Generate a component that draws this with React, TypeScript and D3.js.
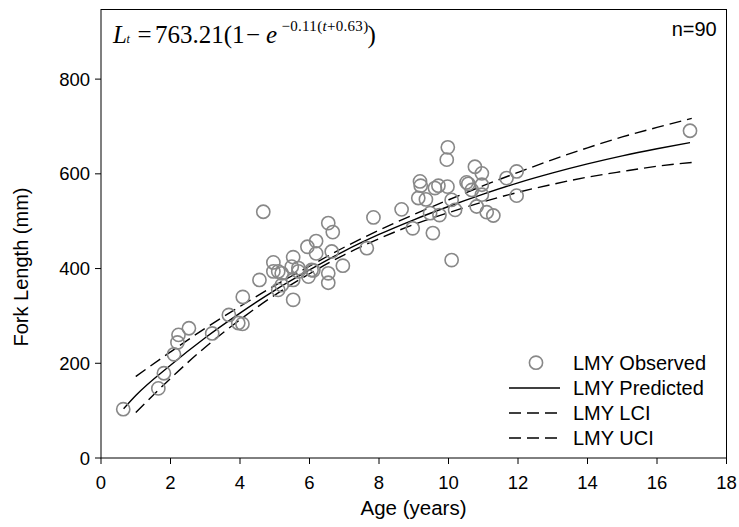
import React from "react";
import * as d3 from "d3";

const obsAge = [0.64, 1.65, 1.81, 2.1, 2.2, 2.23, 2.53, 3.2, 3.68, 3.95, 4.07, 4.08, 4.56, 4.67, 4.96, 4.96, 5.1, 5.1, 5.2, 5.2,
  5.53, 5.53, 5.53, 5.68, 5.94, 5.97, 6.11, 6.19, 6.19, 6.54, 6.67, 6.54, 6.54, 6.64, 6.96, 7.65, 7.84, 8.65, 8.97, 9.18,
  9.2, 9.13, 9.35, 9.55, 9.47, 9.74, 9.61, 9.71, 9.97, 9.98, 9.95, 10.09, 10.19, 10.09, 10.52, 10.57, 10.67, 10.76, 10.96, 10.96,
  10.96, 10.81, 11.1, 11.29, 11.67, 11.96, 11.96, 16.95, 5.49, 5.68, 6.06];
const obsLen = [103, 147, 179, 219, 244, 260, 274, 263, 302, 285, 283, 340, 376, 520, 413, 394, 394, 355, 390, 365,
  424, 376, 334, 394, 446, 383, 396, 458, 432, 496, 477, 390, 370, 436, 406, 443, 508, 525, 485, 584,
  575, 549, 546, 475, 517, 513, 570, 575, 573, 656, 630, 418, 524, 545, 582, 579, 566, 615, 601, 577,
  556, 531, 519, 512, 591, 605, 554, 691, 404, 401, 397];

const predAge = [0.65, 1, 2, 3, 4, 5, 6, 7, 8, 9, 10, 11, 12, 13, 14, 15, 16, 16.95];
const predLen = [104, 132, 196, 254, 306, 354, 397, 437, 472, 503, 531, 557, 581, 602, 621, 638, 653, 666];
const ciAge = [1, 2, 3, 4, 5, 6, 7, 8, 9, 10, 11, 12, 13, 14, 15, 16, 17];
const lciLen = [96, 168, 234, 292, 344, 389, 429, 463, 493, 518, 541, 561, 578, 593, 605, 616, 624];
const uciLen = [172, 224, 274, 320, 364, 405, 445, 481, 514, 545, 575, 603, 630, 655, 678, 698, 717];

const xTicks = [0, 2, 4, 6, 8, 10, 12, 14, 16, 18];
const yTicks = [0, 200, 400, 600, 800];
const legendLabels = ["LMY Observed", "LMY Predicted", "LMY LCI", "LMY UCI"];

const SANS = "'Liberation Sans', Arial, Helvetica, sans-serif";
const SERIF = "'Liberation Serif', 'Times New Roman', serif";

export default function App() {
  const W = 739, H = 527;
  const x = d3.scaleLinear().domain([0, 18]).range([101, 726.5]);
  const y = d3.scaleLinear().domain([0, 947]).range([458, 9.5]);
  const line = d3.line<[number, number]>().x(d => x(d[0])).y(d => y(d[1])).curve(d3.curveMonotoneX);
  const pred = line(predAge.map((a, i) => [a, predLen[i]]));
  const lci = line(ciAge.map((a, i) => [a, lciLen[i]]));
  const uci = line(ciAge.map((a, i) => [a, uciLen[i]]));
  const dash = "12,6";
  const legY = [362.7, 388, 413, 438];

  return (
    <svg width={W} height={H} style={{ position: "absolute", left: 0, top: 0, background: "#fff" }}>
      <rect x={x(0)} y={y(947)} width={x(18) - x(0)} height={y(0) - y(947)} fill="none" stroke="#000" strokeWidth={1} />
      {xTicks.map(t => (
        <g key={"x" + t}>
          <line x1={x(t)} x2={x(t)} y1={y(0)} y2={y(0) + 6} stroke="#000" />
          <text x={x(t)} y={489} textAnchor="middle" fontFamily={SANS} fontSize={18.5}>{t}</text>
        </g>
      ))}
      {yTicks.map(t => (
        <g key={"y" + t}>
          <line x1={x(0) - 6} x2={x(0)} y1={y(t)} y2={y(t)} stroke="#000" />
          <text x={90} y={y(t)} dy="0.36em" textAnchor="end" fontFamily={SANS} fontSize={18.5}>{t}</text>
        </g>
      ))}
      <text x={413.5} y={515} textAnchor="middle" fontFamily={SANS} fontSize={20.5}>Age (years)</text>
      <text transform="translate(28,267) rotate(-90)" textAnchor="middle" fontFamily={SANS} fontSize={20}>Fork Length (mm)</text>

      <path d={uci || ""} fill="none" stroke="#000" strokeWidth={1.4} strokeDasharray={dash} />
      <path d={lci || ""} fill="none" stroke="#000" strokeWidth={1.4} strokeDasharray={dash} />
      <path d={pred || ""} fill="none" stroke="#000" strokeWidth={1.4} />
      {obsAge.map((a, i) => (
        <circle key={"p" + i} cx={x(a)} cy={y(obsLen[i])} r={6.6} fill="none" stroke="#888" strokeWidth={1.6} />
      ))}

      <text y={43.3} fontFamily={SERIF} fontSize={25}>
        <tspan x={113} fontStyle="italic">L</tspan>
        <tspan x={126.5} fontStyle="italic" fontSize={12}>t</tspan>
        <tspan x={137.5}>=</tspan>
        <tspan x={155}>763.21(1</tspan>
        <tspan x={246}>−</tspan>
        <tspan x={266} fontStyle="italic">e</tspan>
      </text>
      <text y={30.5} fontFamily={SERIF} fontSize={15} letterSpacing={0.3}>
        <tspan x={281.5}>−0.11(</tspan>
        <tspan fontStyle="italic">t</tspan>
        <tspan>+0.63)</tspan>
      </text>
      <text x={367.5} y={43.3} fontFamily={SERIF} fontSize={25}>)</text>

      <text x={716.7} y={36} textAnchor="end" fontFamily={SANS} fontSize={20}>n=90</text>

      <circle cx={536} cy={legY[0]} r={6.6} fill="none" stroke="#888" strokeWidth={1.6} />
      <line x1={509} x2={560} y1={legY[1]} y2={legY[1]} stroke="#000" strokeWidth={1.4} />
      <line x1={509} x2={560} y1={legY[2]} y2={legY[2]} stroke="#000" strokeWidth={1.4} strokeDasharray="12,6" />
      <line x1={509} x2={560} y1={legY[3]} y2={legY[3]} stroke="#000" strokeWidth={1.4} strokeDasharray="12,6" />
      {legendLabels.map((l, i) => (
        <text key={l} x={573} y={legY[i] + 7.2} fontFamily={SANS} fontSize={20}>{l}</text>
      ))}
    </svg>
  );
}
